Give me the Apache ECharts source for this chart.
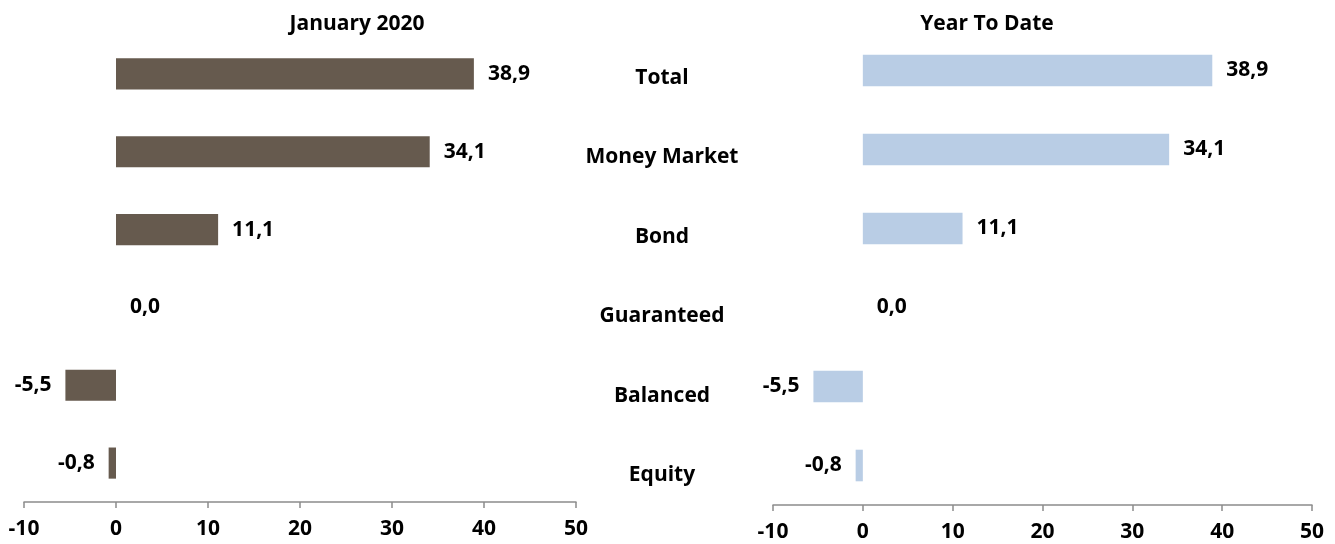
<!DOCTYPE html>
<html>
<head>
<meta charset="utf-8">
<script src="https://cdn.jsdelivr.net/npm/echarts@6/dist/echarts.min.js"></script>
<style>
  html, body { margin: 0; padding: 0; background: #fff; }
  #chart { width: 1335px; height: 544px; }
</style>
</head>
<body>
<div id="chart"></div>
<script>
// categories top to bottom
var categories = ["Total", "Money Market", "Bond", "Guaranteed", "Balanced", "Equity"];
var monthValues = [38.9, 34.1, 11.1, 0.0, -5.5, -0.8];   // January 2020
var ytdValues = [38.9, 34.1, 11.1, 0.0, -5.5, -0.8];     // Year To Date
var axisTicks = [-10, 0, 10, 20, 30, 40, 50];

var FONT = "Open Sans";
var FS = 21;
var cats = categories.slice().reverse(); // category axis draws bottom-up

function fmt(v) {
  return v.toFixed(1).replace(".", ",");
}

// negative bars get their label on the left side
function barData(arr) {
  return arr.slice().reverse().map(function (v) {
    if (v < 0) return { value: v, label: { position: "left" } };
    return v;
  });
}

function valueAxis(idx) {
  return {
    type: "value", gridIndex: idx,
    min: axisTicks[0], max: axisTicks[axisTicks.length - 1], interval: 10,
    splitLine: { show: false },
    axisLine: { show: true, lineStyle: { color: "#8c8c8c", width: 1.5 } },
    axisTick: { show: true, length: 6, lineStyle: { color: "#8c8c8c", width: 1.5 } },
    axisLabel: { color: "#000", fontFamily: FONT, fontWeight: "bold", fontSize: FS, margin: 17 }
  };
}

function catAxis(idx) {
  return {
    type: "category", gridIndex: idx, data: cats,
    axisLine: { show: false }, axisTick: { show: false }, axisLabel: { show: false }
  };
}

function barSeries(idx, arr, color) {
  return {
    type: "bar", xAxisIndex: idx, yAxisIndex: idx,
    data: barData(arr),
    barCategoryGap: "60%",
    itemStyle: { color: color },
    label: {
      show: true, position: "right", distance: 14,
      color: "#000", fontFamily: FONT, fontWeight: "bold", fontSize: FS,
      formatter: function (p) { return fmt(p.value); }
    },
    silent: true
  };
}

var chart = echarts.init(document.getElementById("chart"));
chart.setOption({
  animation: false,
  title: [
    { text: "January 2020", left: 352, top: 9, textAlign: "center",
      textStyle: { fontFamily: FONT, fontWeight: "bold", fontSize: FS, color: "#000" } },
    { text: "Year To Date", left: 982, top: 9, textAlign: "center",
      textStyle: { fontFamily: FONT, fontWeight: "bold", fontSize: FS, color: "#000" } }
  ],
  grid: [
    { left: 24, right: 759, top: 35, bottom: 42 },
    { left: 773, right: 23, top: 31, bottom: 39 },
    { left: 662, width: 1, top: 38, bottom: 29 }
  ],
  xAxis: [
    valueAxis(0),
    valueAxis(1),
    { type: "value", gridIndex: 2, show: false }
  ],
  yAxis: [
    catAxis(0),
    catAxis(1),
    {
      type: "category", gridIndex: 2, data: cats,
      axisLine: { show: false }, axisTick: { show: false },
      axisLabel: { color: "#000", fontFamily: FONT, fontWeight: "bold", fontSize: FS, align: "center", margin: 0 }
    }
  ],
  series: [
    barSeries(0, monthValues, "#665a4e"),
    barSeries(1, ytdValues, "#b9cde5")
  ]
});
</script>
</body>
</html>
